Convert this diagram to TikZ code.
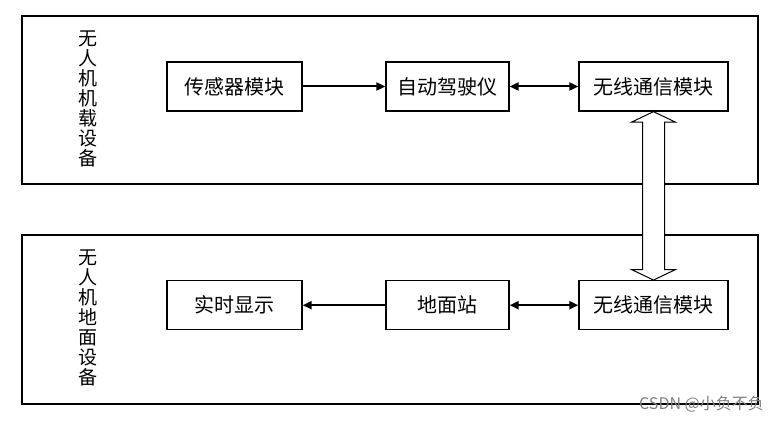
\documentclass[tikz,border=0pt]{standalone}
\usepackage{fontspec}
\newfontfamily\cjk{Noto Sans CJK SC}
\usetikzlibrary{arrows.meta,calc}
\tikzset{
  modbox/.style={draw,line width=1.3pt,minimum height=49pt,inner sep=0pt,font=\cjk\fontsize{20}{20}\selectfont},
  sidelabel/.style={align=center,inner sep=0pt,font=\cjk\fontsize{19}{20}\selectfont},
  link/.style={line width=2pt,-{Triangle[length=9pt,width=8pt]}},
  duplex/.style={line width=2pt,{Triangle[length=9pt,width=8pt]}-{Triangle[length=9pt,width=8pt]}}
}
\begin{document}
\begin{tikzpicture}[x=1pt,y=-1pt]
      \useasboundingbox (0,0) rectangle (780,422);
      \draw[line width=1.8pt] (22,15.7) rectangle (758,184);
      \draw[line width=1.8pt] (22,234.7) rectangle (758,403.7);
      \node[sidelabel] (airlabel) at (88,99) {无\\人\\机\\机\\载\\设\\备};
      \node[sidelabel] (gndlabel) at (88,318) {无\\人\\机\\地\\面\\设\\备};
      \node[modbox,minimum width=135pt] (sensor) at (234.5,86.5) {传感器模块};
      \node[modbox,minimum width=123pt] (autopilot) at (447.5,86.5) {自动驾驶仪};
      \node[modbox,minimum width=149pt] (airradio) at (653.5,86.5) {无线通信模块};
      \node[modbox,minimum width=135pt] (display) at (234.5,305.2) {实时显示};
      \node[modbox,minimum width=123pt] (station) at (447.5,305.2) {地面站};
      \node[modbox,minimum width=149pt] (gndradio) at (653.5,305.2) {无线通信模块};
      \draw[link] (sensor) -- (autopilot);
      \draw[duplex] (autopilot) -- (airradio);
      \draw[link] (station) -- (display);
      \draw[duplex] (station) -- (gndradio);
      \draw[line width=1pt,fill=white] (airradio.south) -- ++(22,10.5) -- ++(-11,0)
        -- ($(gndradio.north)+(11,-10.5)$) -- ++(11,0) -- (gndradio.north)
        -- ++(-22,-10.5) -- ++(11,0) -- ($(airradio.south)+(-11,10.5)$) -- ++(-11,0) -- cycle;
      \node[anchor=east,inner sep=0pt,text=black!50,font=\cjk\fontsize{16}{16}\selectfont] (mark) at (764,404) {CSDN @小负不负};
    \end{tikzpicture}
\end{document}
